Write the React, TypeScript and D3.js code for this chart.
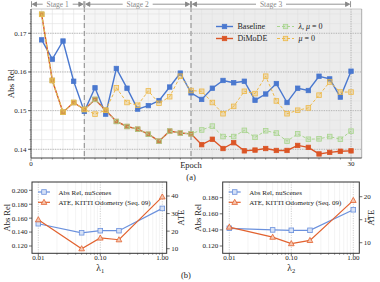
import * as d3 from "d3";
import React from "react";

// epoch curves (a)
const epochs = d3.range(1, 31);
const baseline = [0.1683, 0.1633, 0.168, 0.1576, 0.1498, 0.1559, 0.1491, 0.1609, 0.1558, 0.1504, 0.1513, 0.1526, 0.1561, 0.1597, 0.1546, 0.1529, 0.1558, 0.1578, 0.1572, 0.1576, 0.1527, 0.1543, 0.157, 0.1521, 0.1558, 0.1552, 0.1589, 0.1582, 0.1535, 0.1602];
const dimode = [0.1749, 0.1578, 0.1496, 0.1521, 0.1503, 0.1529, 0.1501, 0.1472, 0.1459, 0.1452, 0.1439, 0.1421, 0.1447, 0.1442, 0.144, 0.1412, 0.1426, 0.1402, 0.1417, 0.1396, 0.1398, 0.1402, 0.1397, 0.1397, 0.141, 0.1405, 0.1388, 0.1392, 0.1395, 0.1396];
const noLambdaMu = [0.1749, 0.1578, 0.1496, 0.1521, 0.1503, 0.1529, 0.1501, 0.1472, 0.1459, 0.1452, 0.1439, 0.1421, 0.1447, 0.1442, 0.144, 0.145, 0.146, 0.1433, 0.1433, 0.1449, 0.1431, 0.1448, 0.1442, 0.1421, 0.144, 0.1426, 0.1427, 0.1433, 0.1426, 0.1447];
const noMu = [0.1749, 0.1578, 0.1496, 0.1521, 0.1503, 0.1491, 0.1501, 0.1559, 0.1521, 0.1514, 0.1551, 0.1519, 0.1536, 0.1589, 0.1552, 0.155, 0.1521, 0.1492, 0.1511, 0.155, 0.1544, 0.1589, 0.1525, 0.1492, 0.1501, 0.1507, 0.154, 0.1574, 0.1548, 0.1548];
const stages = [
  { name: "Stage 1", from: 0, to: 5, fill: "#ffffff" },
  { name: "Stage 2", from: 5, to: 15, fill: "#f5f5f5" },
  { name: "Stage 3", from: 15, to: 30, fill: "#ececec" },
];
const topTicks = [0.14, 0.15, 0.16, 0.17];

// sensitivity (b)
const lambdas = [0.01, 0.05, 0.1, 0.2, 1.0];
const l1AbsRel = [0.152, 0.139, 0.142, 0.142, 0.174];
const l1Ate = [26.5, 10.0, 16.1, 15.1, 39.5];
const l2AbsRel = [0.142, 0.14, 0.1395, 0.1395, 0.165];
const l2Ate = [13.4, 11.2, 9.8, 10.5, 19.2];

const FONT = "'Liberation Serif', 'DejaVu Serif', serif";
const C = { blue: "#4a78cf", orange: "#db5526", green: "#a9d58f", yellow: "#edb94a" };

const Square = ({ x, y, s, fill, stroke, fo = 1 }) => (
  <rect x={x - s / 2} y={y - s / 2} width={s} height={s} fill={fill} fillOpacity={fo} stroke={stroke} strokeWidth={0.8} />
);

const TopChart = () => {
  const L = 31, R = 361.7, T = 9, B = 158;
  const x = d3.scaleLinear().domain([0, 31]).range([L, R]);
  const y = d3.scaleLinear().domain([0.13775, 0.17628]).range([B, T]);
  const line = d3.line<number>().x((_, i) => x(epochs[i])).y((v) => y(v));
  const minorY = d3.range(0.14, 0.1762, 0.0025);
  const series = [
    { data: baseline, color: C.blue, dash: null, hollow: false },
    { data: dimode, color: C.orange, dash: null, hollow: false },
    { data: noLambdaMu, color: C.green, dash: "3,2", hollow: true },
    { data: noMu, color: C.yellow, dash: "3,2", hollow: true },
  ];
  return (
    <g>
      {stages.map((s) => (
        <rect key={s.name} x={x(s.from)} y={T} width={(s.to === 30 ? R : x(s.to)) - x(s.from)} height={B - T} fill={s.fill} />
      ))}
      {d3.range(1, 31).map((e) => (
        <line key={"vx" + e} x1={x(e)} x2={x(e)} y1={T} y2={B} stroke="#e0e0e0" strokeWidth={0.6} />
      ))}
      {minorY.map((v, i) => (
        <line key={"my" + i} x1={L} x2={R} y1={y(v)} y2={y(v)} stroke="#e0e0e0" strokeWidth={0.6} />
      ))}
      {topTicks.map((v) => (
        <line key={"gy" + v} x1={L} x2={R} y1={y(v)} y2={y(v)} stroke="#aaa" strokeWidth={0.8} strokeDasharray="1.2,1.2" />
      ))}
      {[0, 30].map((e) => (
        <line key={"gx" + e} x1={x(e)} x2={x(e)} y1={T} y2={B} stroke="#aaa" strokeWidth={0.8} strokeDasharray="1.2,1.2" />
      ))}
      {[5, 15].map((e) => (
        <line key={"sd" + e} x1={x(e)} x2={x(e)} y1={T - 2} y2={B} stroke="#999" strokeWidth={1.2} strokeDasharray="5,3" />
      ))}
      {/* frame */}
      <line x1={L} x2={R} y1={T} y2={T} stroke="#bbb" strokeWidth={0.8} />
      <line x1={R} x2={R} y1={T} y2={B} stroke="#999" strokeWidth={0.8} />
      <line x1={L} x2={L} y1={T} y2={B} stroke="#444" strokeWidth={1} />
      <line x1={L} x2={R} y1={B} y2={B} stroke="#444" strokeWidth={1} />
      {minorY.map((v, i) => (
        <line key={"mt" + i} x1={L - 1.5} x2={L} y1={y(v)} y2={y(v)} stroke="#444" strokeWidth={0.6} />
      ))}
      {topTicks.map((v) => (
        <g key={"t" + v}>
          <line x1={L - 3} x2={L} y1={y(v)} y2={y(v)} stroke="#444" strokeWidth={0.8} />
          <text x={L - 4.5} y={y(v) + 2.4} fontSize={7} textAnchor="end" fill="#222">{d3.format(".2f")(v)}</text>
        </g>
      ))}
      {d3.range(0, 31).map((e) => (
        <line key={"bt" + e} x1={x(e)} x2={x(e)} y1={B} y2={B + (e % 30 === 0 ? 3 : 1.5)} stroke="#444" strokeWidth={0.6} />
      ))}
      {[0, 30].map((e) => (
        <text key={"bx" + e} x={x(e)} y={B + 8.2} fontSize={7} textAnchor="middle" fill="#222">{e}</text>
      ))}
      <text x={(x(0) + x(30)) / 2} y={167.5} fontSize={8.5} textAnchor="middle" fill="#222">Epoch</text>
      <text x={(x(0) + x(30)) / 2} y={180} fontSize={8.5} textAnchor="middle" fill="#222">(a)</text>
      <text transform={`translate(14,${(T + B) / 2}) rotate(-90)`} fontSize={9} textAnchor="middle" fill="#222">Abs Rel</text>
      {/* stage arrows */}
      {stages.map((s) => {
        const a = x(s.from) + 1.5, b = x(s.to) - 1.5, yy = 4.2, m = (a + b) / 2;
        return (
          <g key={"ar" + s.name} stroke="#888" strokeWidth={0.9} fill="none">
            <line x1={a} x2={b} y1={yy} y2={yy} />
            <path d={`M${a + 4},${yy - 2.2}L${a},${yy}L${a + 4},${yy + 2.2}Z`} fill="#888" />
            <path d={`M${b - 4},${yy - 2.2}L${b},${yy}L${b - 4},${yy + 2.2}Z`} fill="#888" />
            <line x1={a - 1} x2={a - 1} y1={yy - 3} y2={yy + 3} />
            <line x1={b + 1} x2={b + 1} y1={yy - 3} y2={yy + 3} />
            <rect x={m - 15} y={0} width={30} height={8} fill="#fff" stroke="none" />
            <text x={m} y={7} fontSize={7.5} textAnchor="middle" fill="#888" stroke="none">{s.name}</text>
          </g>
        );
      })}
      {series.map((s, k) => (
        <g key={"s" + k}>
          <path d={line(s.data) || ""} fill="none" stroke={s.color} strokeWidth={s.hollow ? 1 : 1.4} strokeDasharray={s.dash || undefined} />
          {s.data.map((v, i) => (
            <Square key={i} x={x(epochs[i])} y={y(v)} s={s.hollow ? 4.6 : 4.4} fill={s.color} stroke={s.color} fo={s.hollow ? 0.35 : 1} />
          ))}
        </g>
      ))}
      {/* legend */}
      {[
        { label: ["Baseline"], color: C.blue, hollow: false, lx: 216, ly: 26.5 },
        { label: ["DiMoDE"], color: C.orange, hollow: false, lx: 216, ly: 38.5 },
        { label: ["λ, μ", " = 0"], color: C.green, hollow: true, lx: 277, ly: 26.5 },
        { label: ["μ", " = 0"], color: C.yellow, hollow: true, lx: 277, ly: 38.5 },
      ].map((e) => (
        <g key={e.label.join("")}>
          <line x1={e.lx} x2={e.lx + 17} y1={e.ly} y2={e.ly} stroke={e.color} strokeWidth={e.hollow ? 1 : 1.4} strokeDasharray={e.hollow ? "3,2" : undefined} />
          <Square x={e.lx + 8.5} y={e.ly} s={4.4} fill={e.color} stroke={e.color} fo={e.hollow ? 0.35 : 1} />
          <text x={e.lx + 21.5} y={e.ly + 2.8} fontSize={8} fill="#222">
            {e.hollow ? (
              <>
                <tspan fontStyle="italic">{e.label[0]}</tspan>
                <tspan>{e.label[1]}</tspan>
              </>
            ) : (
              e.label[0]
            )}
          </text>
        </g>
      ))}
    </g>
  );
};

const Panel = ({ L, R, xr, absRel, ate, absTicks, absRange, ateTicks, ateRange, sub, labelX, ateX }) => {
  const T = 182, B = 253.3;
  const x = d3.scaleLog().domain([0.01, 1]).range(xr);
  const ya = d3.scaleLinear().domain([absTicks[0], absTicks[absTicks.length - 1]]).range(absRange);
  const yt = d3.scaleLinear().domain([ateTicks[0], ateTicks[ateTicks.length - 1]]).range(ateRange);
  const minor = [0.02, 0.03, 0.04, 0.05, 0.06, 0.07, 0.08, 0.09, 0.2, 0.3, 0.4, 0.5, 0.6, 0.7, 0.8, 0.9];
  const lineA = d3.line<number>().x((_, i) => x(lambdas[i])).y((v) => ya(v));
  const lineT = d3.line<number>().x((_, i) => x(lambdas[i])).y((v) => yt(v));
  const blue = "#6b91dd", orange = "#e2622f";
  const tri = (cx, cy, r) => `M${cx},${cy - r}L${cx + r * 0.95},${cy + r * 0.7}L${cx - r * 0.95},${cy + r * 0.7}Z`;
  return (
    <g>
      {minor.map((v) => (
        <line key={"m" + v} x1={x(v)} x2={x(v)} y1={T} y2={B} stroke="#ececec" strokeWidth={0.6} />
      ))}
      {[0.01, 0.1, 1].map((v) => (
        <line key={"g" + v} x1={x(v)} x2={x(v)} y1={T} y2={B} stroke="#bbb" strokeWidth={0.7} strokeDasharray="1.2,1.2" />
      ))}
      <rect x={L} y={T} width={R - L} height={B - T} fill="none" stroke="#333" strokeWidth={1} />
      {minor.map((v) => (
        <line key={"mt" + v} x1={x(v)} x2={x(v)} y1={B} y2={B + 1.5} stroke="#333" strokeWidth={0.5} />
      ))}
      {[0.01, 0.1, 1].map((v) => (
        <g key={"xt" + v}>
          <line x1={x(v)} x2={x(v)} y1={B} y2={B + 3} stroke="#333" strokeWidth={0.7} />
          <text x={x(v)} y={B + 7} fontSize={7} textAnchor="middle" fill="#222">{d3.format(".2f")(v)}</text>
        </g>
      ))}
      {absTicks.map((v) => (
        <g key={"ya" + v}>
          <line x1={L - 3} x2={L} y1={ya(v)} y2={ya(v)} stroke="#333" strokeWidth={0.7} />
          <text x={L - 4.5} y={ya(v) + 2.4} fontSize={7} textAnchor="end" fill="#222">{d3.format(".3f")(v)}</text>
        </g>
      ))}
      {ateTicks.map((v) => (
        <g key={"yt" + v}>
          <line x1={R} x2={R + 3} y1={yt(v)} y2={yt(v)} stroke="#333" strokeWidth={0.7} />
          <text x={R + 4.5} y={yt(v) + 2.4} fontSize={7} textAnchor="start" fill="#222">{v}</text>
        </g>
      ))}
      <text transform={`translate(${labelX},${(T + B) / 2}) rotate(-90)`} fontSize={8.5} textAnchor="middle" fill="#222">Abs Rel</text>
      <text transform={`translate(${ateX},${(T + B) / 2}) rotate(-90)`} fontSize={8.5} textAnchor="middle" fill="#222">ATE</text>
      <text x={x(0.1)} y={271} fontSize={9.5} textAnchor="middle" fill="#222">λ<tspan fontSize={6.5} dy={1.8}>{sub}</tspan></text>
      <path d={lineA(absRel) || ""} fill="none" stroke={blue} strokeWidth={1.2} />
      {absRel.map((v, i) => (
        <Square key={"a" + i} x={x(lambdas[i])} y={ya(v)} s={4.6} fill="#d6e1f6" stroke={blue} />
      ))}
      <path d={lineT(ate) || ""} fill="none" stroke={orange} strokeWidth={1.2} />
      {ate.map((v, i) => (
        <path key={"t" + i} d={tri(x(lambdas[i]), yt(v), 3)} fill="#f5c6b0" stroke={orange} strokeWidth={0.8} />
      ))}
      <g>
        <line x1={L + 6} x2={L + 18} y1={192} y2={192} stroke={blue} strokeWidth={1.2} />
        <Square x={L + 12} y={192} s={4.6} fill="#d6e1f6" stroke={blue} />
        <text x={L + 26.5} y={194.5} fontSize={7} fill="#222">Abs Rel, nuScenes</text>
        <line x1={L + 6} x2={L + 18} y1={202.3} y2={202.3} stroke={orange} strokeWidth={1.2} />
        <path d={tri(L + 12, 202.3, 3)} fill="#f5c6b0" stroke={orange} strokeWidth={0.8} />
        <text x={L + 26.5} y={204.8} fontSize={7} fill="#222">ATE, KITTI Odometry (Seq. 09)</text>
      </g>
    </g>
  );
};

export default function App() {
  return (
    <div style={{ position: "absolute", left: 0, top: 0 }}>
      <svg width={380} height={282} style={{ display: "block", fontFamily: FONT, background: "#fff" }}>
        <TopChart />
        <Panel L={32} R={166.7} xr={[38.3, 162.3]} absRel={l1AbsRel} ate={l1Ate}
          absTicks={[0.12, 0.14, 0.16, 0.18, 0.2]} absRange={[246, 190.3]}
          ateTicks={[10, 20, 30, 40]} ateRange={[248.7, 196]} sub="1" labelX={10} ateX={184} />
        <Panel L={222.7} R={359.3} xr={[229.3, 353.3]} absRel={l2AbsRel} ate={l2Ate}
          absTicks={[0.12, 0.14, 0.16, 0.18]} absRange={[246, 197.7]}
          ateTicks={[10, 15, 20]} ateRange={[242.7, 196.7]} sub="2" labelX={201} ateX={374} />
        <text x={186} y={278} fontSize={8.5} textAnchor="middle" fill="#222">(b)</text>
      </svg>
    </div>
  );
}
